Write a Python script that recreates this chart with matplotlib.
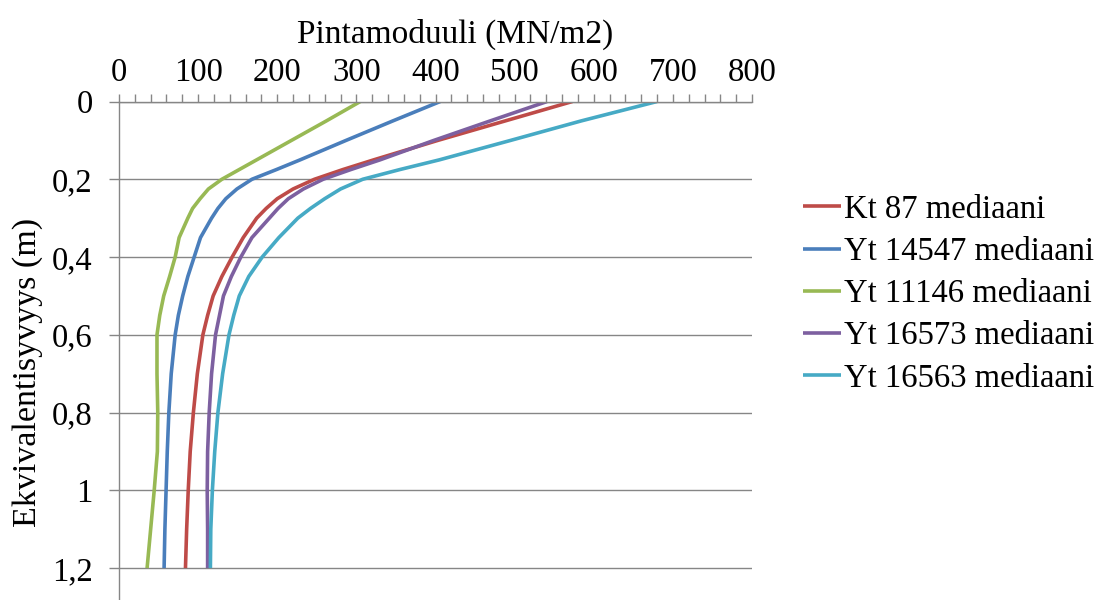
import matplotlib

matplotlib.use("Agg")

import matplotlib.pyplot as plt
from matplotlib.ticker import MultipleLocator

# ---------------------------------------------------------------------------
# Data (depth in m, surface modulus in MN/m2)
# ---------------------------------------------------------------------------
depth = [0, 0.05, 0.1, 0.15, 0.175, 0.2, 0.225, 0.25, 0.275, 0.3, 0.35,
         0.4, 0.45, 0.5, 0.55, 0.6, 0.7, 0.8, 0.9, 1.0, 1.1, 1.2]

kt_87 = [573, 488, 403, 322, 283, 247, 220, 200, 186, 174, 157,
         143, 130, 119, 112, 106, 99, 94, 90, 87.5, 85.5, 84]
yt_14547 = [406, 346, 287, 229, 199, 168, 149, 135, 125, 117, 103,
            95, 87, 80.5, 75, 71, 66, 63, 61, 59.5, 58, 57]
yt_11146 = [305, 262, 218, 174, 152, 130, 113, 102.5, 93, 87, 76,
            71, 64, 56.5, 51.5, 48, 48, 49, 48.5, 44.5, 40, 35.5]
yt_16573 = [541, 469, 398, 330, 293, 258, 233, 214, 201, 190, 168,
            154, 142, 132, 127, 122, 117, 114, 112, 111.5, 112, 112]
yt_16563 = [680, 584, 495, 405, 355, 308, 280, 260, 242, 226, 202,
            181, 164, 152, 145, 139, 131, 125, 121, 118, 116, 115.5]

series_names = [
    "Kt 87 mediaani",
    "Yt 14547 mediaani",
    "Yt 11146 mediaani",
    "Yt 16573 mediaani",
    "Yt 16563 mediaani",
]
series_values = [kt_87, yt_14547, yt_11146, yt_16573, yt_16563]
series_colors = ["#BE4B48", "#4A7EBB", "#98B954", "#7D60A0", "#46AAC5"]

x_ticks = [0, 100, 200, 300, 400, 500, 600, 700, 800]
y_ticks = [0, 0.2, 0.4, 0.6, 0.8, 1.0, 1.2]
y_tick_labels = ["0", "0,2", "0,4", "0,6", "0,8", "1", "1,2"]

GRAY = "#868686"
FONT = "Liberation Serif"
FS = 23.5

plt.rcParams.update(
    {
        "font.family": FONT,
        "font.size": FS,
        "figure.facecolor": "white",
        "axes.facecolor": "white",
    }
)

fig = plt.figure(figsize=(11.13, 6.0), dpi=100)
W, H = 1113, 600
ax = fig.add_axes([119 / W, 0, (752 - 119) / W, 1 - 101.5 / H])

for name, values, color in zip(series_names, series_values, series_colors):
    ax.plot(values, depth, color=color, linewidth=2.6, label=name,
            solid_joinstyle="round", solid_capstyle="butt")

ax.set_xlim(0, 800)
ax.set_ylim(1.282, 0)

# x axis on top with minor ticks
ax.xaxis.set_ticks_position("top")
ax.xaxis.set_label_position("top")
ax.set_xticks(x_ticks)
ax.xaxis.set_minor_locator(MultipleLocator(20))
ax.tick_params(axis="x", which="both", direction="out", length=6,
               width=1, color=GRAY, pad=4, labelsize=FS)

ax.set_yticks(y_ticks)
ax.set_yticklabels(y_tick_labels)
ax.tick_params(axis="y", which="major", direction="out", length=7,
               width=1, color=GRAY, pad=12, labelsize=FS)

# horizontal gridlines only
ax.yaxis.grid(True, color=GRAY, linewidth=1)
ax.xaxis.grid(False)
ax.set_axisbelow(True)

for side in ("right", "bottom"):
    ax.spines[side].set_visible(False)
for side in ("top", "left"):
    ax.spines[side].set_color(GRAY)
    ax.spines[side].set_linewidth(1)

fig.text(455 / W, 1 - 34 / H, "Pintamoduuli (MN/m2)", ha="center",
         va="center", fontsize=FS + 0.5)
fig.text(28 / W, 1 - 372 / H, "Ekvivalentisyvyys (m)", ha="center",
         va="center", rotation=90, fontsize=FS + 1)

fig.legend(
    loc="center left",
    bbox_to_anchor=(803 / W, 1 - 294 / H),
    frameon=False,
    borderpad=0,
    borderaxespad=0,
    handlelength=1.15,
    handletextpad=0.1,
    labelspacing=0.36,
    fontsize=FS,
)

fig.savefig("out.png", dpi=100, facecolor="white")
plt.close(fig)
